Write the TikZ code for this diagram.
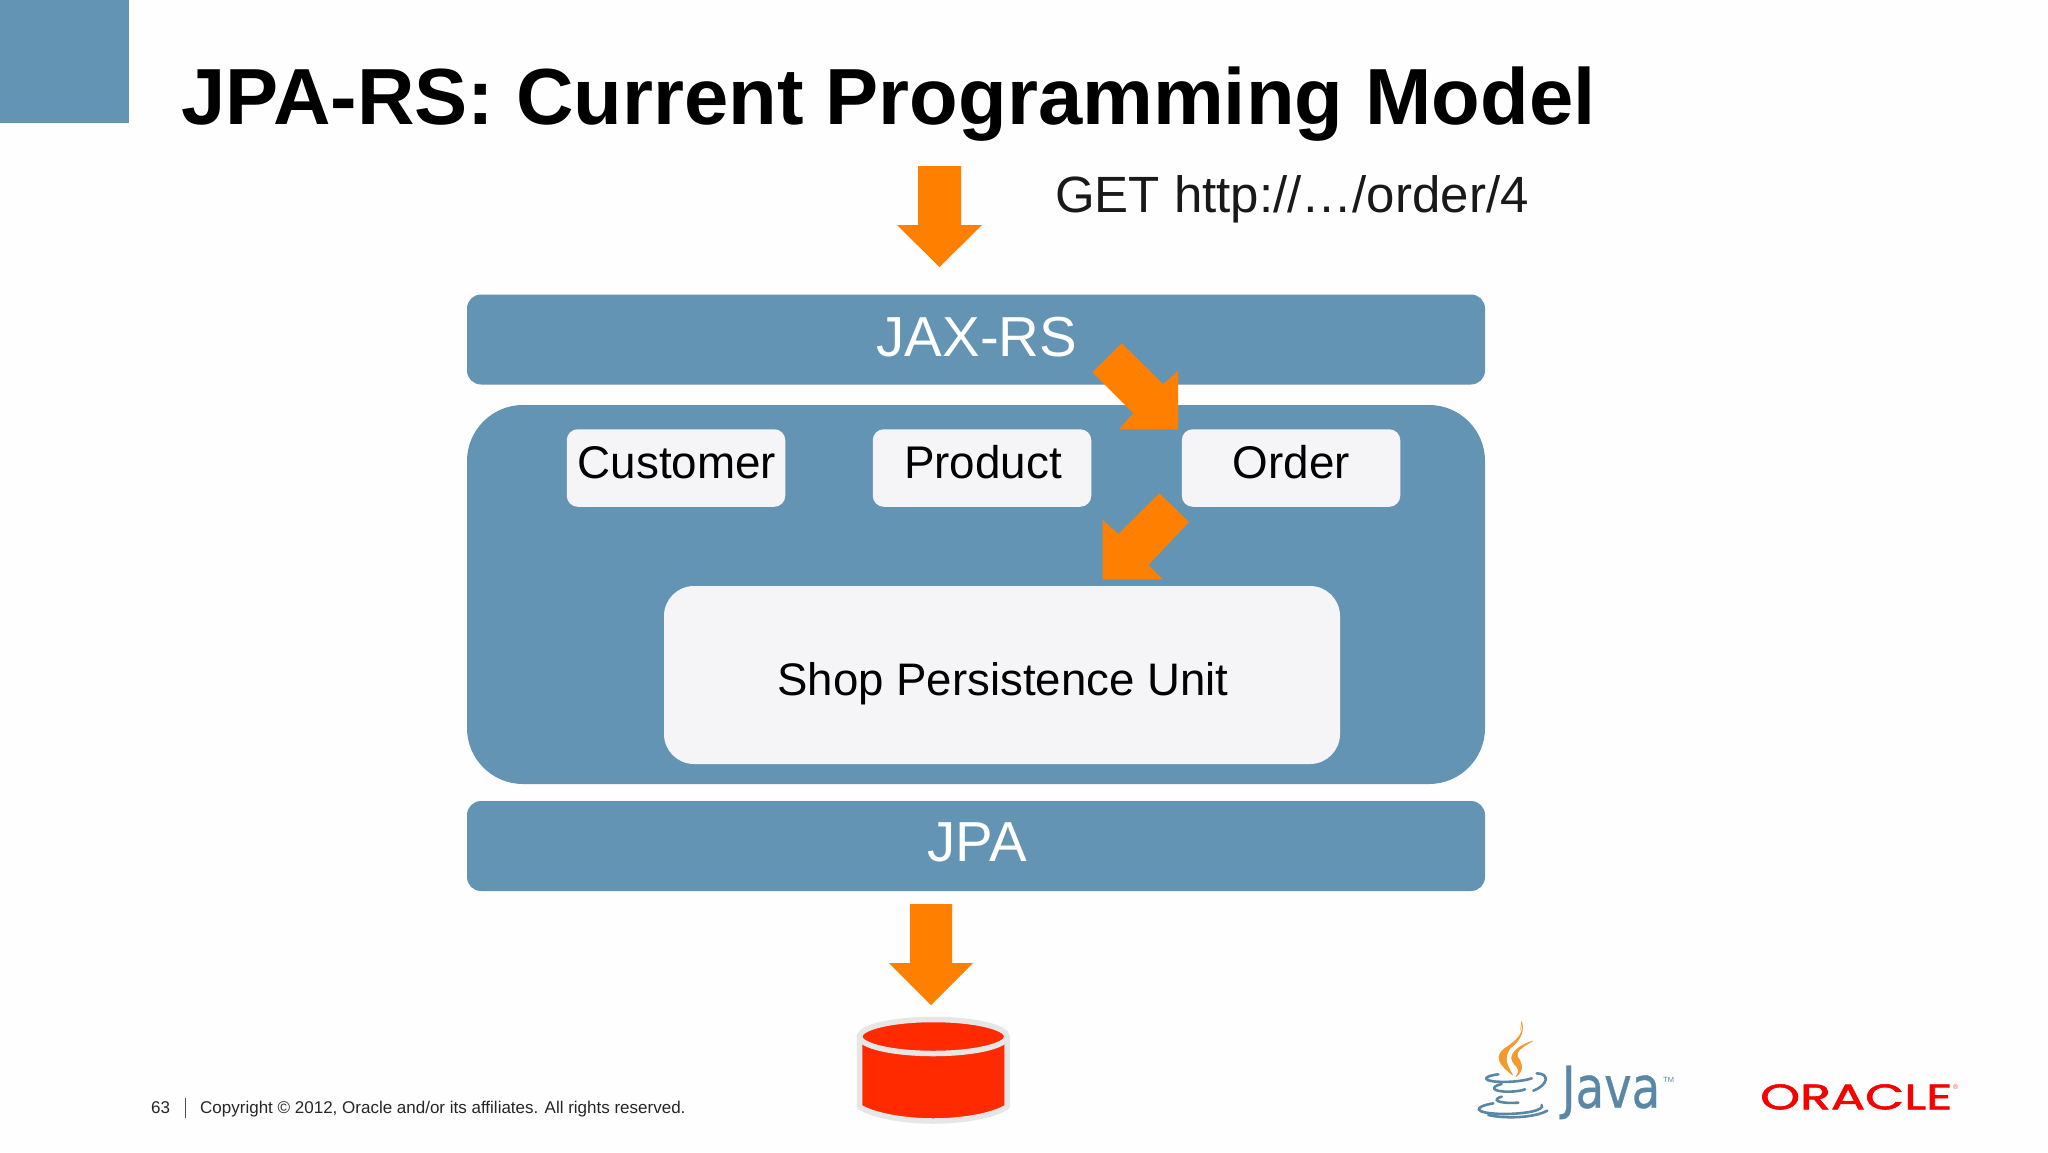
\documentclass[tikz,border=0pt]{standalone}
\usepackage{fontspec}
\usepackage{graphicx}
\setmainfont{Liberation Sans}
\newfontfamily\logofont[FakeBold=1.6]{Poppins}
\newfontfamily\javafont[FakeBold=0.7]{DejaVu Sans}
\definecolor{slateblue}{HTML}{6494B4}
\definecolor{panel}{HTML}{F5F5F7}
\definecolor{arroworange}{HTML}{FF8000}
\definecolor{dbred}{HTML}{FF2A00}
\definecolor{dbrim}{HTML}{E6E6E6}
\definecolor{oraclered}{HTML}{F80000}
\definecolor{javablue}{HTML}{5B87A6}
\definecolor{javaflame}{HTML}{F29A2E}
\newcommand{\fsz}[1]{\fontsize{#1pt}{#1pt}\selectfont}
\newcommand{\lift}[2]{\raisebox{#1pt}[0pt][0pt]{#2}}
\tikzset{
  x=1pt,y=-1pt,
  bar/.style={fill=slateblue,minimum width=1018pt,minimum height=90pt,rounded corners=14pt,inner sep=0pt,outer sep=0pt,text=white,font=\fsz{56.4}},
  holder/.style={fill=slateblue,minimum width=1018pt,minimum height=379pt,rounded corners=56pt,inner sep=0pt,outer sep=0pt},
  entity/.style={fill=panel,minimum width=218.5pt,minimum height=77.5pt,rounded corners=11pt,inner sep=0pt,outer sep=0pt,text=black,font=\fsz{45.8}},
  unitbox/.style={fill=panel,minimum width=676pt,minimum height=178pt,rounded corners=30pt,inner sep=0pt,outer sep=0pt,text=black,font=\fsz{45.6}},
  flow/.style={fill=arroworange},
  cupline/.style={draw=javablue,line width=2.6pt,line cap=round},
  flame/.style={fill=javaflame,draw=javaflame,line width=0.6pt,line join=round},
  foot/.style={font=\fsz{17},text=black!85,anchor=base west,inner sep=0pt}
}
\begin{document}
\begin{tikzpicture}
\useasboundingbox (0,0) rectangle (2048,1152);
\fill[white!99.5!black] (0,0) rectangle (2048,1152);
\fill[slateblue] (0,0) rectangle (129,123);

\node[anchor=base west,inner sep=0pt,font=\fsz{79.6}\bfseries,text=black] (title) at (181.5,124.5) {JPA-RS: Current Programming Model};
\node[anchor=base west,inner sep=0pt,font=\fsz{51},text=black!90] (request) at (1055,212) {GET http://…/order/4};

\node[bar] (jaxrs) at (976,339.5) {\lift{-16.5}{\hspace*{2pt}JAX-RS}};
\node[holder] (holder) at (976,594.5) {};
\node[bar] (jpa) at (976,846) {\lift{-15.5}{\hspace*{2pt}JPA}};
\node[entity] (customer) at (676,468) {\lift{-10.3}{\hspace*{2pt}Customer}};
\node[entity] (product) at (982,468) {\lift{-10.3}{\hspace*{2pt}Product}};
\node[entity] (order) at (1291,468) {\lift{-10.3}{\hspace*{1pt}Order}};
\node[unitbox] (unit) at (1002,675) {\lift{-20}{\hspace*{2pt}Shop Persistence Unit}};

% block arrows
\fill[flow] (918,166) -- (961,166) -- (961,225) -- (982,225) -- (939.5,267) -- (897,225) -- (918,225) -- cycle;
\fill[flow] (910,904) -- (952,904) -- (952,963) -- (973,963) -- (931,1005) -- (889,963) -- (910,963) -- cycle;
\fill[flow] (1121.7,343.3) -- (1092.3,372.3) -- (1133.3,413.3) -- (1119,429.3) -- (1178,429.3) -- (1178,370.7) -- (1163.3,384.3) -- cycle;
\fill[flow] (1159.3,493.3) -- (1189,522) -- (1148.3,565) -- (1162.7,579.3) -- (1102.7,579.3) -- (1102.7,520) -- (1118.3,534) -- cycle;

% database
\path[fill=dbred,draw=dbrim,line width=5.5pt,line join=round]
  (859.6,1036.5) -- (859.6,1107) .. controls (875,1116) and (905,1121) .. (933.3,1121) .. controls (962,1121) and (992,1116) .. (1007,1107) -- (1007,1036.5) -- cycle;
\path[fill=dbred,draw=dbrim,line width=5.5pt] (933.3,1036.5) ellipse[x radius=73.7pt,y radius=17pt];

% footer
\node[foot] (pagenum) at (151,1113) {63};
\coordinate (sepa) at (185,1098);
\coordinate (sepb) at (185,1118);
\draw[black!70,line width=1pt] (sepa) -- (sepb);
\node[foot] (copyright) at (200,1113) {Copyright © 2012, Oracle and/or its affiliates. All rights reserved.};

% Java cup and steam
\begin{scope}[shift={(1460,1010)},x=0.3333pt,y=-0.3333pt]
  \fill[flame] (185,35) .. controls (197,70) and (165,95) .. (135,115) .. controls (105,137) and (112,160) .. (158,195) .. controls (140,165) and (130,145) .. (150,115) .. controls (175,95) and (195,70) .. (185,35) -- cycle;
  \fill[flame] (218,93) .. controls (180,105) and (155,125) .. (155,145) .. controls (158,170) and (190,170) .. (168,200) .. controls (197,178) and (182,152) .. (172,140) .. controls (165,125) and (190,108) .. (218,93) -- cycle;
  \draw[flame] (185,35) -- (182,60);
  \draw[cupline] (115,193) .. controls (70,198) and (65,212) .. (110,215) .. controls (150,218) and (195,212) .. (215,205);
  \draw[cupline] (230,190) .. controls (270,190) and (265,225) .. (220,242);
  \draw[cupline] (125,222) .. controls (90,230) and (95,245) .. (145,245) .. controls (165,245) and (185,242) .. (195,238);
  \draw[cupline] (125,260) .. controls (95,268) and (110,282) .. (175,278);
  \draw[cupline] (100,280) .. controls (40,290) and (35,310) .. (130,312) .. controls (200,312) and (255,300) .. (245,285);
  \draw[cupline] (85,315) .. controls (130,326) and (220,325) .. (262,302);
\end{scope}
\node[inner sep=0pt,text=javablue,anchor=base west] (java) at (1561.7,1107.7) {\resizebox{98.3pt}{42pt}{\javafont\fsz{58}Java}};
\node[inner sep=0pt,text=javablue,font=\fsz{7.5},anchor=base west] (tm) at (1663,1082.5) {TM};

% Oracle wordmark
\node[inner sep=0pt,text=oraclered,anchor=base west] (oracle) at (1760,1109.3) {\resizebox{192pt}{25pt}{\logofont\fsz{36}ORACLE}};
\node[inner sep=0pt,text=oraclered!70,font=\fsz{7}] (reg) at (1955.7,1087.3) {®};
\end{tikzpicture}
\end{document}
